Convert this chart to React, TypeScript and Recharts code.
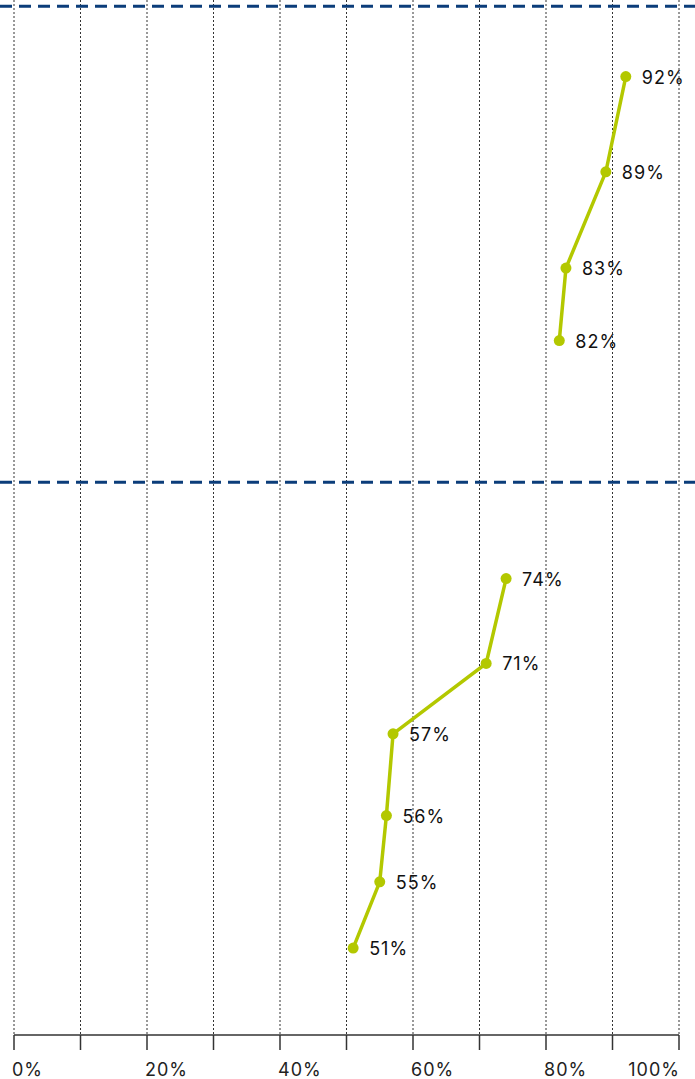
import React from "react";
import { ComposedChart, Line, XAxis, YAxis, CartesianGrid, ReferenceLine, LabelList } from "recharts";

// top group (rows read top to bottom, 0 = top of plot, 100 = axis)
const upperRows = [7.4, 16.6, 25.9, 32.9];
const upperValues = [92, 89, 83, 82];

const lowerRows = [55.9, 64.1, 70.9, 78.8, 85.2, 91.6];
const lowerValues = [74, 71, 57, 56, 55, 51];

const dividerRows = [0.6, 46.6];
const xTicks = [0, 10, 20, 30, 40, 50, 60, 70, 80, 90, 100];
const labelledTicks = [0, 20, 40, 60, 80, 100];

const upperData = upperValues.map((v, i) => ({ value: v, row: upperRows[i] }));
const lowerData = lowerValues.map((v, i) => ({ value: v, row: lowerRows[i] }));

const LINE = "#b3c800";
const NAVY = "#0b3d7a";
const FONT = "Inter, 'Noto Sans', sans-serif";

const Tick = (props: any) => {
    const { x, y, payload } = props;
    if (!labelledTicks.includes(payload.value)) return null;
    const anchor = payload.value === 100 ? "end" : "start";
    return (
        <text x={payload.value === 100 ? x + 1 : x - 2} y={y + 24} textAnchor={anchor} fontSize={18} fontFamily={FONT} fill="#222" letterSpacing={1}>
            {payload.value}%
        </text>
    );
};

const Divider = (props: any) => {
    const { y1 } = props;
    return <line x1={0} x2={695} y1={y1} y2={y1} stroke={NAVY} strokeWidth={3} strokeDasharray="12 7" />;
};

const PointLabel = (props: any) => {
    const { x, y, value } = props;
    return (
        <text x={x + 16} y={y} dy={7} fontSize={18} fontFamily={FONT} fill="#111" letterSpacing={1}>
            {value}%
        </text>
    );
};

export default function App() {
    return (
        <div style={{ position: "absolute", left: 0, top: 0 }}>
            <ComposedChart width={695} height={1079} margin={{ top: 0, right: 16, left: 14, bottom: 0 }}>
                <CartesianGrid horizontal={false} stroke="#333" strokeDasharray="2 2" strokeWidth={1} />
                <XAxis
                    type="number"
                    dataKey="value"
                    domain={[0, 100]}
                    ticks={xTicks}
                    interval={0}
                    height={44}
                    tickSize={15}
                    axisLine={{ stroke: "#333", strokeWidth: 1.5 }}
                    tickLine={{ stroke: "#333", strokeWidth: 1.5 }}
                    tick={<Tick />}
                />
                <YAxis type="number" dataKey="row" domain={[0, 100]} reversed hide />
                {dividerRows.map((r) => (
                    <ReferenceLine key={r} y={r} shape={<Divider />} ifOverflow="visible" />
                ))}
                <Line data={upperData} dataKey="row" stroke={LINE} strokeWidth={3.5} dot={{ r: 5.5, fill: LINE, stroke: LINE, strokeWidth: 0 }} isAnimationActive={false}>
                    <LabelList dataKey="value" content={<PointLabel />} />
                </Line>
                <Line data={lowerData} dataKey="row" stroke={LINE} strokeWidth={3.5} dot={{ r: 5.5, fill: LINE, stroke: LINE, strokeWidth: 0 }} isAnimationActive={false}>
                    <LabelList dataKey="value" content={<PointLabel />} />
                </Line>
            </ComposedChart>
        </div>
    );
}
